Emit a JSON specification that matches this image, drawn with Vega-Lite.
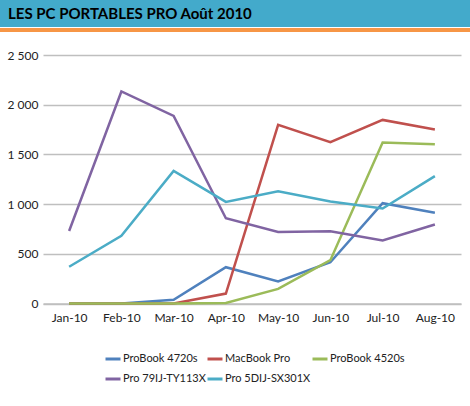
{
  "$schema": "https://vega.github.io/schema/vega-lite/v6.json",
  "padding": 0,
  "background": "white",
  "config": {"font": "Lato"},
  "spacing": 17,
  "vconcat": [
    {
      "vconcat": [
        {
          "width": 470,
          "height": 27,
          "view": {"fill": "#43AACB", "stroke": null},
          "data": {"values": [{"t": "LES PC PORTABLES PRO Août 2010"}]},
          "mark": {"type": "text", "align": "left", "baseline": "middle", "fontSize": 15, "fontWeight": "bold", "color": "black", "font": "Lato", "dx": 8},
          "encoding": {
            "text": {"field": "t"},
            "x": {"datum": 0, "type": "quantitative", "scale": {"domain": [0, 1]}, "axis": null},
            "y": {"datum": 0.5, "type": "quantitative", "scale": {"domain": [0, 1]}, "axis": null}
          }
        },
        {
          "width": 470,
          "height": 4,
          "view": {"fill": "#F79646", "stroke": null},
          "mark": {"type": "rule", "opacity": 0},
          "encoding": {}
        }
      ],
      "spacing": 1
    },
    {
      "width": 470,
      "height": 248.5,
      "view": {"stroke": null},
      "data": {"values": [
        {"m": "Jan-10", "s": "ProBook 4720s", "v": 0},
        {"m": "Feb-10", "s": "ProBook 4720s", "v": 0},
        {"m": "Mar-10", "s": "ProBook 4720s", "v": 37},
        {"m": "Apr-10", "s": "ProBook 4720s", "v": 365},
        {"m": "May-10", "s": "ProBook 4720s", "v": 221},
        {"m": "Jun-10", "s": "ProBook 4720s", "v": 415},
        {"m": "Jul-10", "s": "ProBook 4720s", "v": 1009},
        {"m": "Aug-10", "s": "ProBook 4720s", "v": 912},
        {"m": "Jan-10", "s": "MacBook Pro", "v": 0},
        {"m": "Feb-10", "s": "MacBook Pro", "v": 0},
        {"m": "Mar-10", "s": "MacBook Pro", "v": 0},
        {"m": "Apr-10", "s": "MacBook Pro", "v": 100},
        {"m": "May-10", "s": "MacBook Pro", "v": 1797},
        {"m": "Jun-10", "s": "MacBook Pro", "v": 1623},
        {"m": "Jul-10", "s": "MacBook Pro", "v": 1847},
        {"m": "Aug-10", "s": "MacBook Pro", "v": 1751},
        {"m": "Jan-10", "s": "ProBook 4520s", "v": 0},
        {"m": "Feb-10", "s": "ProBook 4520s", "v": 0},
        {"m": "Mar-10", "s": "ProBook 4520s", "v": 0},
        {"m": "Apr-10", "s": "ProBook 4520s", "v": 6},
        {"m": "May-10", "s": "ProBook 4520s", "v": 147},
        {"m": "Jun-10", "s": "ProBook 4520s", "v": 436},
        {"m": "Jul-10", "s": "ProBook 4520s", "v": 1620},
        {"m": "Aug-10", "s": "ProBook 4520s", "v": 1603},
        {"m": "Jan-10", "s": "Pro 79IJ-TY113X", "v": 730},
        {"m": "Feb-10", "s": "Pro 79IJ-TY113X", "v": 2133},
        {"m": "Mar-10", "s": "Pro 79IJ-TY113X", "v": 1887},
        {"m": "Apr-10", "s": "Pro 79IJ-TY113X", "v": 858},
        {"m": "May-10", "s": "Pro 79IJ-TY113X", "v": 720},
        {"m": "Jun-10", "s": "Pro 79IJ-TY113X", "v": 727},
        {"m": "Jul-10", "s": "Pro 79IJ-TY113X", "v": 634},
        {"m": "Aug-10", "s": "Pro 79IJ-TY113X", "v": 795},
        {"m": "Jan-10", "s": "Pro 5DIJ-SX301X", "v": 370},
        {"m": "Feb-10", "s": "Pro 5DIJ-SX301X", "v": 680},
        {"m": "Mar-10", "s": "Pro 5DIJ-SX301X", "v": 1334},
        {"m": "Apr-10", "s": "Pro 5DIJ-SX301X", "v": 1022},
        {"m": "May-10", "s": "Pro 5DIJ-SX301X", "v": 1130},
        {"m": "Jun-10", "s": "Pro 5DIJ-SX301X", "v": 1026},
        {"m": "Jul-10", "s": "Pro 5DIJ-SX301X", "v": 956},
        {"m": "Aug-10", "s": "Pro 5DIJ-SX301X", "v": 1281}
      ]},
      "mark": {"type": "line", "strokeWidth": 2.5},
      "encoding": {
        "x": {
          "field": "m", "type": "ordinal", "sort": null,
          "scale": {"type": "point", "padding": 0.5, "range": [43, 461]},
          "axis": {"title": null, "labelAngle": 0, "ticks": false, "labelPadding": 9, "labelFontSize": 12, "labelColor": "#222", "domainColor": "#BFBFBF", "domainWidth": 1.5, "grid": false}
        },
        "y": {
          "field": "v", "type": "quantitative",
          "scale": {"domain": [0, 2500], "nice": false},
          "axis": {"title": null, "offset": -43, "values": [0, 500, 1000, 1500, 2000, 2500], "labelExpr": "replace(format(datum.value, ','), ',', ' ')", "ticks": false, "domain": false, "labelPadding": 5, "labelFontSize": 12, "labelColor": "#222", "gridColor": "#BFBFBF", "gridWidth": 1.5}
        },
        "color": {
          "field": "s", "type": "nominal",
          "scale": {"domain": ["ProBook 4720s", "MacBook Pro", "ProBook 4520s", "Pro 79IJ-TY113X", "Pro 5DIJ-SX301X"], "range": ["#4F81BD", "#C0504D", "#9BBB59", "#8064A2", "#4BACC6"]},
          "legend": {"title": null, "orient": "none", "legendX": 104, "legendY": 350, "padding": 0, "direction": "horizontal", "columns": 3, "symbolType": "stroke", "symbolStrokeWidth": 3, "symbolSize": 225, "labelFontSize": 11, "labelColor": "#222", "labelOffset": 1, "columnPadding": -18, "rowPadding": 5, "gridAlign": "each"}
        }
      }
    }
  ]
}
